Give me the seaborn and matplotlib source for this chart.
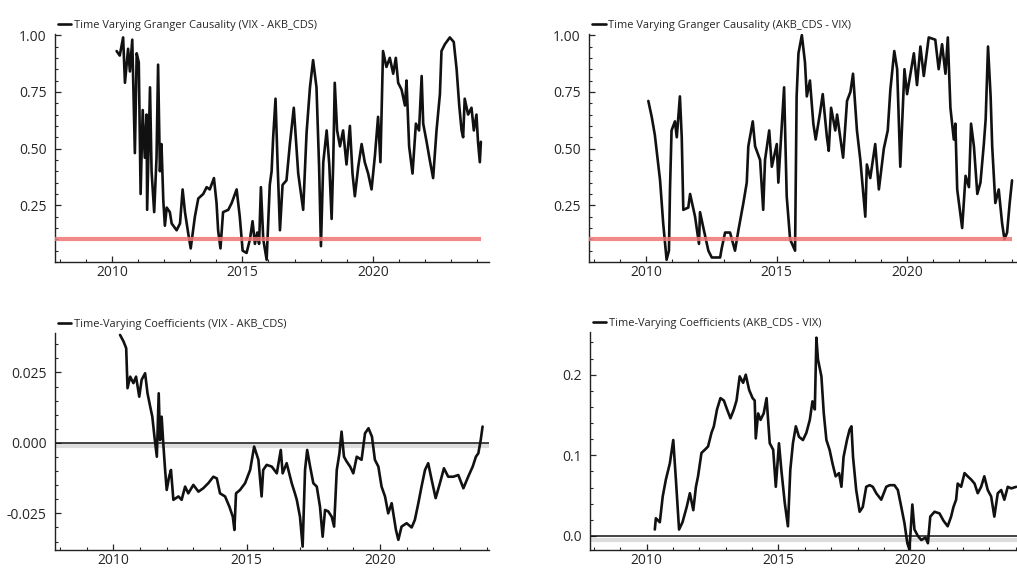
import pandas as pd
import matplotlib
matplotlib.use("Agg")
import matplotlib.pyplot as plt
from matplotlib.ticker import MultipleLocator, FormatStrFormatter
import seaborn as sns

sns.set_style("ticks")
plt.rcParams['font.family'] = ['Open Sans', 'DejaVu Sans']

# Time varying Granger causality p-values, VIX -> AKB_CDS
gc_vix_akb_t = [2010.18, 2010.30, 2010.43, 2010.50, 2010.62, 2010.69, 2010.78, 2010.88, 2010.95, 2011.03,
                2011.10, 2011.18, 2011.26, 2011.33, 2011.35, 2011.46, 2011.52, 2011.62, 2011.71, 2011.77,
                2011.84, 2011.90, 2011.97, 2012.03, 2012.10, 2012.22, 2012.29, 2012.48, 2012.61, 2012.71,
                2012.80, 2012.92, 2013.02, 2013.18, 2013.31, 2013.50, 2013.63, 2013.75, 2013.91, 2014.01,
                2014.07, 2014.16, 2014.26, 2014.46, 2014.59, 2014.78, 2014.90, 2015.01, 2015.16, 2015.29,
                2015.39, 2015.48, 2015.57, 2015.64, 2015.71, 2015.80, 2015.93, 2016.05, 2016.12, 2016.18,
                2016.27, 2016.35, 2016.44, 2016.54, 2016.69, 2016.82, 2016.97, 2017.14, 2017.33, 2017.46,
                2017.59, 2017.71, 2017.84, 2017.94, 2018.01, 2018.10, 2018.23, 2018.33, 2018.42, 2018.48,
                2018.54, 2018.63, 2018.74, 2018.86, 2018.99, 2019.12, 2019.22, 2019.31, 2019.44, 2019.57,
                2019.69, 2019.82, 2019.95, 2020.08, 2020.20, 2020.29, 2020.39, 2020.52, 2020.65, 2020.78,
                2020.88, 2020.97, 2021.10, 2021.23, 2021.29, 2021.39, 2021.52, 2021.65, 2021.77, 2021.87,
                2021.93, 2022.06, 2022.18, 2022.31, 2022.44, 2022.57, 2022.63, 2022.76, 2022.95, 2023.10,
                2023.21, 2023.31, 2023.40, 2023.46, 2023.52, 2023.65, 2023.78, 2023.87, 2023.97, 2024.03,
                2024.10, 2024.14]
gc_vix_akb_v = [0.93, 0.91, 0.99, 0.79, 0.94, 0.84, 0.98, 0.48, 0.92, 0.88,
                0.30, 0.67, 0.46, 0.65, 0.23, 0.77, 0.40, 0.22, 0.46, 0.87,
                0.40, 0.52, 0.27, 0.16, 0.24, 0.22, 0.17, 0.14, 0.17, 0.32,
                0.22, 0.13, 0.06, 0.20, 0.28, 0.30, 0.33, 0.32, 0.37, 0.26,
                0.14, 0.06, 0.22, 0.23, 0.26, 0.32, 0.20, 0.05, 0.04, 0.10,
                0.18, 0.08, 0.13, 0.08, 0.33, 0.10, 0.01, 0.34, 0.40, 0.55,
                0.72, 0.43, 0.14, 0.34, 0.36, 0.52, 0.68, 0.39, 0.23, 0.57,
                0.77, 0.89, 0.77, 0.42, 0.07, 0.44, 0.58, 0.43, 0.19, 0.43,
                0.79, 0.58, 0.51, 0.58, 0.43, 0.60, 0.39, 0.29, 0.42, 0.52,
                0.44, 0.39, 0.32, 0.47, 0.64, 0.44, 0.93, 0.86, 0.90, 0.83,
                0.90, 0.79, 0.76, 0.69, 0.80, 0.51, 0.39, 0.61, 0.58, 0.82,
                0.61, 0.53, 0.45, 0.37, 0.58, 0.74, 0.93, 0.96, 0.99, 0.97,
                0.85, 0.69, 0.58, 0.55, 0.72, 0.65, 0.68, 0.58, 0.65, 0.53,
                0.44, 0.53]

# Time varying Granger causality p-values, AKB_CDS -> VIX
gc_akb_vix_t = [2010.09, 2010.22, 2010.34, 2010.54, 2010.66, 2010.79, 2010.88, 2010.92, 2010.98, 2011.11,
                2011.18, 2011.30, 2011.37, 2011.43, 2011.62, 2011.69, 2011.88, 2012.03, 2012.07, 2012.20,
                2012.39, 2012.52, 2012.84, 2012.90, 2013.03, 2013.22, 2013.41, 2013.54, 2013.73, 2013.86,
                2013.92, 2014.09, 2014.18, 2014.37, 2014.49, 2014.56, 2014.72, 2014.82, 2015.01, 2015.07,
                2015.29, 2015.39, 2015.52, 2015.71, 2015.77, 2015.84, 2015.97, 2016.09, 2016.16, 2016.28,
                2016.41, 2016.50, 2016.67, 2016.77, 2016.93, 2017.00, 2017.09, 2017.25, 2017.32, 2017.44,
                2017.55, 2017.70, 2017.83, 2017.93, 2018.02, 2018.08, 2018.21, 2018.40, 2018.46, 2018.59,
                2018.78, 2018.92, 2019.11, 2019.26, 2019.36, 2019.51, 2019.62, 2019.74, 2019.90, 2020.00,
                2020.26, 2020.38, 2020.51, 2020.64, 2020.83, 2021.08, 2021.21, 2021.34, 2021.47, 2021.56,
                2021.66, 2021.79, 2021.85, 2021.92, 2022.11, 2022.24, 2022.37, 2022.45, 2022.56, 2022.69,
                2022.81, 2022.94, 2023.01, 2023.10, 2023.20, 2023.26, 2023.38, 2023.51, 2023.64, 2023.73,
                2023.83, 2023.93, 2024.02]
gc_akb_vix_v = [0.71, 0.64, 0.56, 0.36, 0.17, 0.01, 0.05, 0.32, 0.58, 0.62,
                0.55, 0.73, 0.55, 0.23, 0.24, 0.30, 0.20, 0.08, 0.22, 0.15,
                0.05, 0.02, 0.02, 0.06, 0.13, 0.13, 0.05, 0.14, 0.26, 0.35,
                0.51, 0.62, 0.51, 0.45, 0.23, 0.45, 0.58, 0.42, 0.52, 0.35,
                0.77, 0.29, 0.10, 0.05, 0.73, 0.92, 1.00, 0.88, 0.73, 0.80,
                0.61, 0.54, 0.66, 0.74, 0.55, 0.49, 0.68, 0.58, 0.65, 0.55,
                0.46, 0.71, 0.75, 0.83, 0.68, 0.58, 0.45, 0.20, 0.43, 0.37,
                0.52, 0.32, 0.50, 0.58, 0.76, 0.93, 0.85, 0.42, 0.85, 0.74,
                0.92, 0.78, 0.95, 0.82, 0.99, 0.98, 0.85, 0.96, 0.83, 0.99,
                0.68, 0.54, 0.61, 0.32, 0.15, 0.38, 0.33, 0.61, 0.51, 0.30,
                0.35, 0.52, 0.63, 0.95, 0.73, 0.51, 0.26, 0.32, 0.17, 0.10,
                0.13, 0.26, 0.36]

# Time varying coefficients, VIX -> AKB_CDS
coef_vix_akb_t = [2010.25, 2010.38, 2010.48, 2010.53, 2010.63, 2010.75, 2010.85, 2010.97, 2011.06, 2011.19,
                  2011.28, 2011.38, 2011.46, 2011.54, 2011.63, 2011.70, 2011.75, 2011.81, 2011.87, 2011.94,
                  2012.00, 2012.09, 2012.16, 2012.25, 2012.44, 2012.56, 2012.69, 2012.81, 2013.00, 2013.19,
                  2013.37, 2013.56, 2013.75, 2013.88, 2014.00, 2014.19, 2014.35, 2014.48, 2014.54, 2014.60,
                  2014.75, 2014.94, 2015.13, 2015.28, 2015.44, 2015.56, 2015.62, 2015.75, 2015.94, 2016.13,
                  2016.28, 2016.35, 2016.50, 2016.69, 2016.81, 2016.88, 2017.00, 2017.10, 2017.19, 2017.27,
                  2017.38, 2017.50, 2017.63, 2017.75, 2017.85, 2017.94, 2018.06, 2018.19, 2018.28, 2018.38,
                  2018.48, 2018.56, 2018.65, 2018.75, 2018.88, 2019.00, 2019.13, 2019.31, 2019.44, 2019.57,
                  2019.70, 2019.81, 2019.94, 2020.06, 2020.19, 2020.31, 2020.44, 2020.60, 2020.69, 2020.81,
                  2021.00, 2021.19, 2021.31, 2021.44, 2021.56, 2021.69, 2021.81, 2021.94, 2022.09, 2022.25,
                  2022.40, 2022.56, 2022.75, 2022.94, 2023.13, 2023.31, 2023.48, 2023.60, 2023.69, 2023.78,
                  2023.85]
coef_vix_akb_v = [0.0383, 0.0360, 0.0336, 0.0194, 0.0235, 0.0212, 0.0235, 0.0164, 0.0224, 0.0247,
                  0.0176, 0.0129, 0.0093, 0.0022, -0.0049, 0.0176, 0.0010, 0.0093, 0.0000, -0.0096,
                  -0.0167, -0.0120, -0.0096, -0.0202, -0.0190, -0.0202, -0.0155, -0.0179, -0.0149, -0.0173,
                  -0.0161, -0.0143, -0.0120, -0.0126, -0.0179, -0.0190, -0.0226, -0.0262, -0.0309, -0.0179,
                  -0.0167, -0.0143, -0.0096, -0.0013, -0.0060, -0.0190, -0.0096, -0.0078, -0.0084, -0.0108,
                  -0.0025, -0.0108, -0.0072, -0.0143, -0.0179, -0.0202, -0.0262, -0.0368, -0.0096, -0.0025,
                  -0.0084, -0.0143, -0.0155, -0.0226, -0.0333, -0.0238, -0.0243, -0.0262, -0.0297, -0.0096,
                  -0.0037, 0.0040, -0.0049, -0.0066, -0.0084, -0.0108, -0.0049, -0.0060, 0.0034, 0.0052,
                  0.0022, -0.0060, -0.0084, -0.0155, -0.0190, -0.0250, -0.0214, -0.0309, -0.0344, -0.0297,
                  -0.0285, -0.0300, -0.0273, -0.0214, -0.0155, -0.0096, -0.0072, -0.0131, -0.0196, -0.0143,
                  -0.0090, -0.0120, -0.0120, -0.0114, -0.0161, -0.0120, -0.0084, -0.0049, -0.0037, 0.0010,
                  0.0058]

# Time varying coefficients, AKB_CDS -> VIX
coef_akb_vix_t = [2010.31, 2010.35, 2010.50, 2010.61, 2010.73, 2010.88, 2011.01, 2011.11, 2011.23, 2011.36,
                  2011.52, 2011.64, 2011.77, 2011.87, 2011.95, 2012.08, 2012.21, 2012.33, 2012.46, 2012.55,
                  2012.67, 2012.80, 2012.93, 2013.05, 2013.18, 2013.31, 2013.41, 2013.53, 2013.66, 2013.76,
                  2013.89, 2014.02, 2014.10, 2014.14, 2014.23, 2014.32, 2014.44, 2014.55, 2014.67, 2014.80,
                  2014.90, 2015.02, 2015.11, 2015.24, 2015.36, 2015.45, 2015.55, 2015.66, 2015.78, 2015.93,
                  2016.06, 2016.19, 2016.29, 2016.38, 2016.44, 2016.50, 2016.63, 2016.72, 2016.82, 2016.94,
                  2017.05, 2017.17, 2017.30, 2017.39, 2017.47, 2017.60, 2017.70, 2017.77, 2017.83, 2017.95,
                  2018.08, 2018.20, 2018.33, 2018.46, 2018.58, 2018.71, 2018.90, 2019.09, 2019.22, 2019.40,
                  2019.53, 2019.66, 2019.78, 2019.89, 2019.97, 2020.08, 2020.16, 2020.29, 2020.42, 2020.58,
                  2020.67, 2020.76, 2020.92, 2021.11, 2021.26, 2021.42, 2021.55, 2021.64, 2021.74, 2021.80,
                  2021.93, 2022.06, 2022.18, 2022.31, 2022.44, 2022.56, 2022.69, 2022.81, 2022.94, 2023.07,
                  2023.19, 2023.32, 2023.45, 2023.57, 2023.70, 2023.83, 2024.02]
coef_akb_vix_v = [0.008, 0.022, 0.017, 0.049, 0.070, 0.090, 0.119, 0.070, 0.008, 0.017,
                  0.036, 0.053, 0.032, 0.061, 0.074, 0.103, 0.107, 0.111, 0.128, 0.136,
                  0.157, 0.171, 0.168, 0.157, 0.146, 0.157, 0.168, 0.198, 0.190, 0.200,
                  0.181, 0.171, 0.168, 0.121, 0.152, 0.144, 0.152, 0.171, 0.115, 0.107,
                  0.061, 0.115, 0.082, 0.041, 0.012, 0.082, 0.115, 0.136, 0.123, 0.119,
                  0.128, 0.144, 0.167, 0.157, 0.246, 0.219, 0.198, 0.152, 0.119, 0.107,
                  0.090, 0.074, 0.078, 0.061, 0.098, 0.119, 0.132, 0.136, 0.098, 0.057,
                  0.030, 0.036, 0.061, 0.063, 0.061, 0.053, 0.045, 0.061, 0.063, 0.063,
                  0.057, 0.036, 0.016, -0.009, -0.017, 0.039, 0.008, 0.000, -0.005, -0.002,
                  -0.009, 0.024, 0.030, 0.028, 0.019, 0.012, 0.024, 0.036, 0.045, 0.065,
                  0.061, 0.078, 0.074, 0.070, 0.065, 0.053, 0.061, 0.074, 0.057, 0.049,
                  0.024, 0.053, 0.057, 0.045, 0.061, 0.059, 0.061]

significance = 0.1


def style_axis(ax, xlim, ylim, yticks, yminor, yfmt):
    sns.despine(ax=ax)
    ax.set_xlim(*xlim)
    ax.set_ylim(*ylim)
    ax.set_xticks([2010, 2015, 2020])
    ax.xaxis.set_minor_locator(MultipleLocator(1))
    ax.set_yticks(yticks)
    ax.yaxis.set_minor_locator(MultipleLocator(yminor))
    ax.yaxis.set_major_formatter(FormatStrFormatter(yfmt))
    ax.tick_params(which='major', direction='in', length=4, width=0.9, labelsize=10)
    ax.tick_params(axis='y', which='major', pad=6)
    ax.tick_params(axis='x', which='major', pad=2)
    ax.tick_params(which='minor', direction='in', length=2.5, width=0.8)
    for s in ['left', 'bottom']:
        ax.spines[s].set_linewidth(1.0)
        ax.spines[s].set_color('#222222')
    ax.set_xlabel('')
    ax.set_ylabel('')


def draw(ax, t, v, label):
    df = pd.DataFrame({'date': t, 'value': v})
    sns.lineplot(data=df, x='date', y='value', ax=ax, color='#111111', linewidth=1.9,
                 label=label, estimator=None)
    ax.legend(loc='lower left', bbox_to_anchor=(0.0, 1.0), frameon=False, borderaxespad=0.1,
              handlelength=1.2, handletextpad=0.25, fontsize=7.9, borderpad=0.2)


def main():
    fig = plt.figure(figsize=(10.17, 5.69), dpi=100)
    ax1 = fig.add_axes([0.0541, 0.5395, 0.4267, 0.4007])
    ax2 = fig.add_axes([0.5792, 0.5395, 0.4208, 0.4007])
    ax3 = fig.add_axes([0.0541, 0.0334, 0.4267, 0.3814])
    ax4 = fig.add_axes([0.5801, 0.0334, 0.4199, 0.3831])

    # granger causality panels with significance level
    draw(ax1, gc_vix_akb_t, gc_vix_akb_v, 'Time Varying Granger Causality (VIX - AKB_CDS)')
    ax1.hlines(significance, 2007.82, gc_vix_akb_t[-1], color='#f07575', linewidth=3, alpha=0.85, zorder=3)
    style_axis(ax1, (2007.82, 2024.45), (0.0, 1.005), [0.25, 0.5, 0.75, 1.0], 0.05, '%.2f')

    draw(ax2, gc_akb_vix_t, gc_akb_vix_v, 'Time Varying Granger Causality (AKB_CDS - VIX)')
    ax2.hlines(significance, 2007.82, gc_akb_vix_t[-1], color='#f07575', linewidth=3, alpha=0.85, zorder=3)
    style_axis(ax2, (2007.82, 2024.21), (0.0, 1.005), [0.25, 0.5, 0.75, 1.0], 0.05, '%.2f')

    # coefficient panels with zero line
    draw(ax3, coef_vix_akb_t, coef_vix_akb_v, 'Time-Varying Coefficients (VIX - AKB_CDS)')
    ax3.axhline(-0.0011, color='#dddddd', linewidth=3, zorder=1)
    ax3.axhline(0, color='#111111', linewidth=1.1, zorder=1)
    style_axis(ax3, (2007.81, 2024.09), (-0.038, 0.039), [-0.025, 0.0, 0.025], 0.005, '%.3f')

    draw(ax4, coef_akb_vix_t, coef_akb_vix_v, 'Time-Varying Coefficients (AKB_CDS - VIX)')
    ax4.axhline(-0.0045, color='#dddddd', linewidth=3, zorder=1)
    ax4.axhline(0, color='#111111', linewidth=1.1, zorder=1)
    style_axis(ax4, (2007.85, 2024.05), (-0.0174, 0.253), [0.0, 0.1, 0.2], 0.02, '%.1f')

    fig.savefig('out.png', dpi=100)


if __name__ == '__main__':
    main()
